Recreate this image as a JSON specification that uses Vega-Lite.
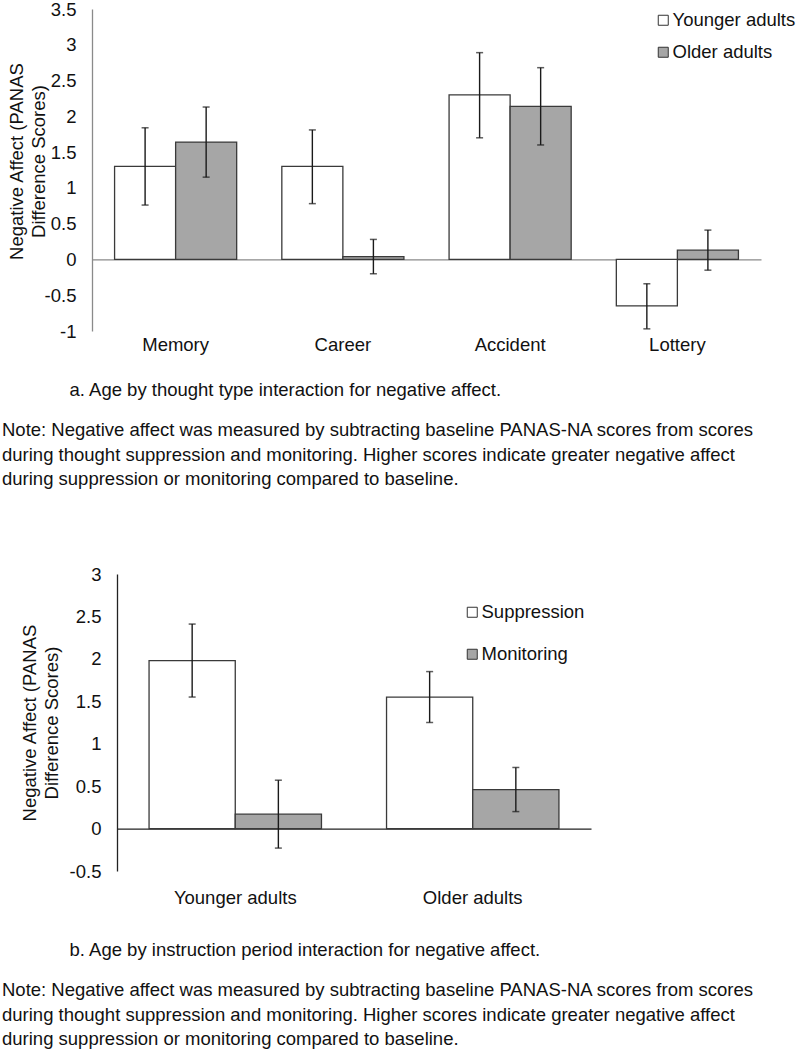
{
  "$schema": "https://vega.github.io/schema/vega-lite/v6.json",
  "background": "white",
  "padding": {"left": 2, "top": 0, "right": 0, "bottom": 0},
  "columns": 1,
  "spacing": 76,
  "resolve": {
    "scale": {"x": "independent", "y": "independent", "xOffset": "independent", "fill": "independent"},
    "legend": {"fill": "independent"},
    "axis": {"x": "independent", "y": "independent"}
  },
  "config": {
    "font": "Liberation Sans",
    "view": {"stroke": null},
    "axis": {
      "labelFont": "Liberation Sans",
      "labelFontSize": 18.5,
      "labelColor": "#111111",
      "labelOverlap": false,
      "titleFont": "Liberation Sans",
      "titleFontSize": 18.5,
      "titleFontWeight": "normal",
      "titleColor": "#111111",
      "grid": false,
      "ticks": false
    },
    "legend": {
      "labelFont": "Liberation Sans",
      "labelFontSize": 18.5,
      "labelColor": "#111111",
      "symbolType": "square",
      "symbolSize": 100,
      "symbolStrokeColor": "#333333",
      "symbolStrokeWidth": 1,
      "symbolOpacity": 1,
      "labelOffset": 0
    },
    "title": {
      "font": "Liberation Sans",
      "fontSize": 18.5,
      "fontWeight": "normal",
      "color": "#111111",
      "lineHeight": 24.5
    }
  },
  "concat": [
    {
      "width": 669,
      "height": 322,
      "data": {
        "values": [
          {"type": "Memory", "age": "Younger adults", "mean": 1.30, "lo": 0.76, "hi": 1.84},
          {"type": "Memory", "age": "Older adults", "mean": 1.64, "lo": 1.15, "hi": 2.13},
          {"type": "Career", "age": "Younger adults", "mean": 1.30, "lo": 0.78, "hi": 1.81},
          {"type": "Career", "age": "Older adults", "mean": 0.04, "lo": -0.20, "hi": 0.28},
          {"type": "Accident", "age": "Younger adults", "mean": 2.30, "lo": 1.70, "hi": 2.89},
          {"type": "Accident", "age": "Older adults", "mean": 2.14, "lo": 1.60, "hi": 2.68},
          {"type": "Lottery", "age": "Younger adults", "mean": -0.65, "lo": -0.97, "hi": -0.34},
          {"type": "Lottery", "age": "Older adults", "mean": 0.13, "lo": -0.15, "hi": 0.41}
        ]
      },
      "title": {
        "text": [
          "Note:  Negative affect was measured by subtracting baseline PANAS-NA scores from scores",
          "during thought suppression and monitoring. Higher scores indicate greater negative affect",
          "during suppression or monitoring compared to baseline."
        ],
        "orient": "bottom",
        "anchor": "start",
        "frame": "group",
        "dx": -90,
        "offset": 22
      },
      "layer": [
        {
          "mark": {"type": "bar", "stroke": "#3a3a3a", "strokeWidth": 1.3},
          "encoding": {
            "x": {
              "field": "type", "type": "nominal",
              "sort": ["Memory", "Career", "Accident", "Lottery"],
              "scale": {"paddingInner": 0.27, "paddingOuter": 0.135},
              "axis": {
                "title": "a. Age by thought type interaction for negative affect.",
                "titleAnchor": "start",
                "titleAlign": "left",
                "titleX": -23,
                "titlePadding": 27,
                "domain": true,
                "domainColor": "#8a8a8a",
                "domainWidth": 1.3,
                "offset": -71.56,
                "labelAngle": 0,
                "labelPadding": 75.56
              }
            },
            "xOffset": {"field": "age", "type": "nominal", "sort": ["Younger adults", "Older adults"], "scale": {"paddingInner": 0, "paddingOuter": 0}},
            "y": {
              "field": "mean", "type": "quantitative",
              "scale": {"domain": [-1, 3.5], "nice": false, "zero": false},
              "axis": {
                "title": ["Negative Affect (PANAS", "Difference Scores)"],
                "values": [-1, -0.5, 0, 0.5, 1, 1.5, 2, 2.5, 3, 3.5],
                "tickCount": 20,
                "labelExpr": "toString(datum.value)",
                "labelOverlap": false,
                "domainColor": "#8a8a8a",
                "domainWidth": 1.3,
                "labelPadding": 16,
                "titlePadding": -4,
                "titleY": 152,
                "titleLineHeight": 22
              }
            },
            "fill": {
              "field": "age", "type": "nominal",
              "scale": {"domain": ["Younger adults", "Older adults"], "range": ["#ffffff", "#a6a6a6"]},
              "legend": {"title": null, "orient": "none", "legendX": 562, "legendY": 2, "rowPadding": 13}
            }
          }
        },
        {
          "mark": {"type": "rule", "color": "#1a1a1a", "strokeWidth": 1.4},
          "encoding": {
            "x": {"field": "type", "type": "nominal", "sort": ["Memory", "Career", "Accident", "Lottery"]},
            "xOffset": {"field": "age", "type": "nominal", "sort": ["Younger adults", "Older adults"]},
            "y": {"field": "lo", "type": "quantitative"},
            "y2": {"field": "hi"}
          }
        },
        {
          "mark": {"type": "tick", "color": "#1a1a1a", "thickness": 1.5, "size": 7},
          "encoding": {
            "x": {"field": "type", "type": "nominal", "sort": ["Memory", "Career", "Accident", "Lottery"]},
            "xOffset": {"field": "age", "type": "nominal", "sort": ["Younger adults", "Older adults"]},
            "y": {"field": "lo", "type": "quantitative"}
          }
        },
        {
          "mark": {"type": "tick", "color": "#1a1a1a", "thickness": 1.5, "size": 7},
          "encoding": {
            "x": {"field": "type", "type": "nominal", "sort": ["Memory", "Career", "Accident", "Lottery"]},
            "xOffset": {"field": "age", "type": "nominal", "sort": ["Younger adults", "Older adults"]},
            "y": {"field": "hi", "type": "quantitative"}
          }
        }
      ]
    },
    {
      "width": 499,
      "height": 297,
      "data": {
        "values": [
          {"age": "Younger adults", "period": "Suppression", "mean": 1.98, "lo": 1.55, "hi": 2.41},
          {"age": "Younger adults", "period": "Monitoring", "mean": 0.17, "lo": -0.23, "hi": 0.57},
          {"age": "Older adults", "period": "Suppression", "mean": 1.55, "lo": 1.25, "hi": 1.85},
          {"age": "Older adults", "period": "Monitoring", "mean": 0.46, "lo": 0.20, "hi": 0.72}
        ]
      },
      "title": {
        "text": [
          "Note: Negative affect was measured by subtracting baseline PANAS-NA scores from scores",
          "during thought suppression and monitoring. Higher scores indicate greater negative affect",
          "during suppression or monitoring compared to baseline."
        ],
        "orient": "bottom",
        "anchor": "start",
        "frame": "group",
        "dx": -90,
        "offset": 22
      },
      "layer": [
        {
          "mark": {"type": "bar", "stroke": "#3a3a3a", "strokeWidth": 1.3},
          "encoding": {
            "x": {
              "field": "age", "type": "nominal",
              "sort": ["Younger adults", "Older adults"],
              "scale": {"range": [25, 499], "paddingInner": 0.274, "paddingOuter": 0.135},
              "axis": {
                "title": "b. Age by instruction period interaction for negative affect.",
                "titleAnchor": "start",
                "titleAlign": "left",
                "titleX": -23,
                "titlePadding": 34,
                "domain": true,
                "domainColor": "#222222",
                "domainWidth": 1.3,
                "offset": -42.4,
                "labelAngle": 0,
                "labelPadding": 59.4
              }
            },
            "xOffset": {"field": "period", "type": "nominal", "sort": ["Suppression", "Monitoring"], "scale": {"paddingInner": 0, "paddingOuter": 0}},
            "y": {
              "field": "mean", "type": "quantitative",
              "scale": {"domain": [-0.5, 3], "nice": false, "zero": false},
              "axis": {
                "title": ["Negative Affect (PANAS", "Difference Scores)"],
                "values": [-0.5, 0, 0.5, 1, 1.5, 2, 2.5, 3],
                "tickCount": 20,
                "labelExpr": "toString(datum.value)",
                "labelOverlap": false,
                "offset": -25,
                "domainColor": "#222222",
                "domainWidth": 1.3,
                "labelPadding": 16,
                "titlePadding": 8,
                "titleLineHeight": 22
              }
            },
            "fill": {
              "field": "period", "type": "nominal",
              "scale": {"domain": ["Suppression", "Monitoring"], "range": ["#ffffff", "#a6a6a6"]},
              "legend": {"title": null, "orient": "none", "legendX": 371, "legendY": 29, "rowPadding": 23}
            }
          }
        },
        {
          "mark": {"type": "rule", "color": "#1a1a1a", "strokeWidth": 1.4},
          "encoding": {
            "x": {"field": "age", "type": "nominal", "sort": ["Younger adults", "Older adults"]},
            "xOffset": {"field": "period", "type": "nominal", "sort": ["Suppression", "Monitoring"]},
            "y": {"field": "lo", "type": "quantitative"},
            "y2": {"field": "hi"}
          }
        },
        {
          "mark": {"type": "tick", "color": "#1a1a1a", "thickness": 1.5, "size": 7},
          "encoding": {
            "x": {"field": "age", "type": "nominal", "sort": ["Younger adults", "Older adults"]},
            "xOffset": {"field": "period", "type": "nominal", "sort": ["Suppression", "Monitoring"]},
            "y": {"field": "lo", "type": "quantitative"}
          }
        },
        {
          "mark": {"type": "tick", "color": "#1a1a1a", "thickness": 1.5, "size": 7},
          "encoding": {
            "x": {"field": "age", "type": "nominal", "sort": ["Younger adults", "Older adults"]},
            "xOffset": {"field": "period", "type": "nominal", "sort": ["Suppression", "Monitoring"]},
            "y": {"field": "hi", "type": "quantitative"}
          }
        }
      ]
    }
  ]
}
